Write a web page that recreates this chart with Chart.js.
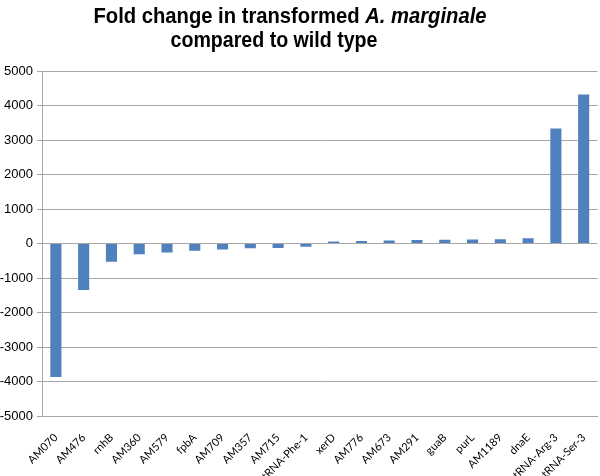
<!DOCTYPE html>
<html>
<head>
<meta charset="utf-8">
<script src="https://cdn.jsdelivr.net/npm/chart.js@4"></script>
<style>
  html, body { margin: 0; padding: 0; background: #fff; }
  #wrap { width: 600px; height: 476px; }
</style>
</head>
<body>
<div id="wrap"><canvas id="chart" width="600" height="476"></canvas></div>
<script>
// === Datos ===
const genes = ["AM070", "AM476", "rnhB", "AM360", "AM579", "fpbA", "AM709", "AM357", "AM715", "tRNA-Phe-1",
  "xerD", "AM776", "AM673", "AM291", "guaB", "purL", "AM1189", "dnaE", "tRNA-Arg-3", "tRNA-Ser-3"];
const foldChange = [-3870, -1350, -530, -310, -260, -210, -175, -135, -130, -95,
  60, 70, 90, 100, 107, 115, 125, 155, 3330, 4320];
const yTicks = [-5000, -4000, -3000, -2000, -1000, 0, 1000, 2000, 3000, 4000, 5000];

// titulo con parte en cursiva (texto algo estrecho como en el original)
const titlePlugin = {
  id: "tituloMixto",
  afterDraw(chart) {
    const c = chart.ctx;
    c.save();
    c.fillStyle = "#000";
    c.textBaseline = "alphabetic";
    const normal = "bold 22px 'Liberation Sans', Arial, sans-serif";
    const italic = "italic bold 22px 'Liberation Sans', Arial, sans-serif";
    const p1 = "Fold change in transformed ";
    const p2 = "A. marginale";
    const p3 = "compared to wild type";
    c.font = normal;
    const w1 = c.measureText(p1).width;
    const w3 = c.measureText(p3).width;
    c.font = italic;
    const w2 = c.measureText(p2).width;

    c.save();
    c.translate(290 - 393 / 2, 23);
    c.scale(393 / (w1 + w2), 1);
    c.textAlign = "left";
    c.font = normal;
    c.fillText(p1, 0, 0);
    c.font = italic;
    c.fillText(p2, w1, 0);
    c.restore();

    c.save();
    c.translate(274, 47);
    c.scale(207 / w3, 1);
    c.textAlign = "center";
    c.font = normal;
    c.fillText(p3, 0, 0);
    c.restore();
    c.restore();
  }
};

const ctx = document.getElementById("chart").getContext("2d");
const chart = new Chart(ctx, {
  type: "bar",
  data: {
    labels: genes,
    datasets: [{
      data: foldChange,
      backgroundColor: "#4F81BD",
      borderWidth: 0,
      barPercentage: 0.4,
      categoryPercentage: 1.0
    }]
  },
  options: {
    responsive: false,
    animation: false,
    layout: { padding: { top: 71, right: 0, left: 0, bottom: 0 } },
    plugins: {
      legend: { display: false },
      tooltip: { enabled: false },
      title: { display: false }
    },
    scales: {
      y: {
        min: -5000,
        max: 5000,
        afterBuildTicks: (scale) => {
          scale.ticks = yTicks.map(v => ({ value: v }));
        },
        afterFit: (scale) => { scale.width = 42; },
        ticks: {
          color: "#000",
          padding: 4,
          callback: (v) => String(v),
          font: { family: "'Liberation Sans', Arial, sans-serif", size: 13 }
        },
        grid: { color: "#a6a6a6", lineWidth: 1, tickLength: 5 },
        border: { color: "#a6a6a6" }
      },
      x: {
        afterFit: (scale) => { scale.height = 60; },
        ticks: {
          color: "#000",
          minRotation: 45,
          maxRotation: 45,
          autoSkip: false,
          padding: 7,
          font: { family: "Lato, 'Open Sans', sans-serif", size: 11 }
        },
        grid: { display: false },
        border: { color: "#a6a6a6" }
      }
    }
  },
  plugins: [titlePlugin]
});
</script>
</body>
</html>
